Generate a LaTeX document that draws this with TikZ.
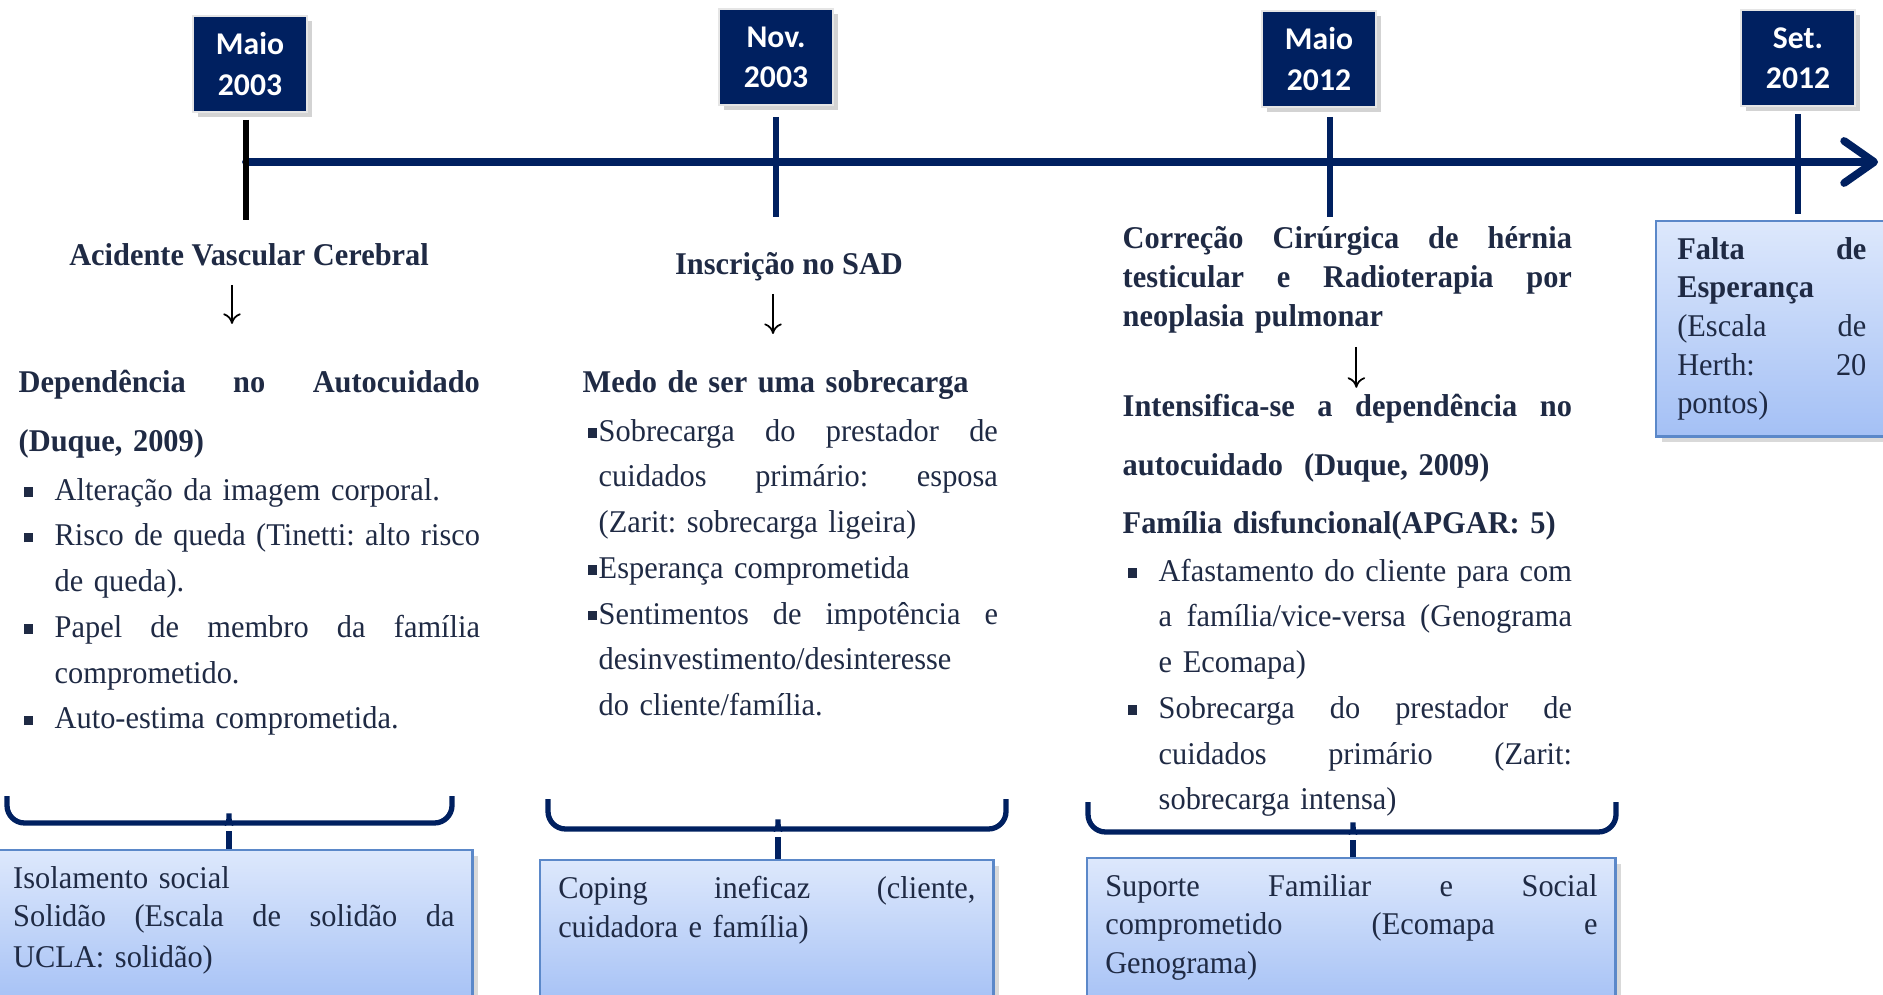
\documentclass[tikz,border=0pt]{standalone}
\usepackage{fontspec}
\setmainfont{Liberation Serif}[FakeStretch=0.96]
\newfontfamily\datefont{Carlito}
\usetikzlibrary{arrows.meta,shadows,calc}
\frenchspacing

\definecolor{tlnavy}{HTML}{002060}
\definecolor{inkblue}{HTML}{1F2A44}
\definecolor{boxtop}{HTML}{DDE8FC}
\definecolor{boxbot}{HTML}{A4C0F5}
\definecolor{boxline}{HTML}{5B88C9}

% justified / left lines, bullet lines and hanging lines
\newlength\bulind
\newcommand\jsp{\spaceskip=0.3em plus 1fil\relax\xspaceskip=0.35em plus 1fil\relax}
\newcommand\lnj[2][\hsize]{\makebox[#1][s]{\jsp#2}}
\newcommand\lnl[2][\hsize]{\makebox[#1][l]{#2}}
\newcommand\bulmark{\makebox[\bulind][l]{\hspace{0.05cm}\rule[0.25ex]{0.65ex}{0.65ex}}}
\newcommand\bulj[1]{\bulmark\makebox[\dimexpr\hsize-\bulind\relax][s]{\jsp#1}}
\newcommand\bull[1]{\bulmark\makebox[\dimexpr\hsize-\bulind\relax][l]{#1}}
\newcommand\hngj[1]{\hspace*{\bulind}\makebox[\dimexpr\hsize-\bulind\relax][s]{\jsp#1}}
\newcommand\hngl[1]{\hspace*{\bulind}\makebox[\dimexpr\hsize-\bulind\relax][l]{#1}}
\newcommand\boxfoot[1]{\rule[-#1]{0pt}{0pt}}

\begin{document}
\begin{tikzpicture}[x=0.01cm, y=-0.01cm,
    datebox/.style={draw=white!80!gray, line width=0.6pt, fill=tlnavy, text=white,
        font=\datefont\bfseries\fontsize{9}{11.4}\selectfont, align=center,
        minimum width=1.14cm, minimum height=0.96cm, inner sep=0pt,
        drop shadow={shadow xshift=1.5pt, shadow yshift=-1.5pt, opacity=0.35}},
    timeline/.style={draw=tlnavy, line width=2.2pt, line cap=round,
        -{Straight Barb[length=0.3cm, width=0.42cm, round]}},
    tickline/.style={draw=tlnavy, line width=1.8pt},
    heading/.style={font=\bfseries\fontsize{9}{11}\selectfont, text=inkblue, inner sep=0pt},
    textblock/.style={text=inkblue, inner sep=0pt, align=left, anchor=base west,
        font=\fontsize{9}{13}\selectfont},
    downarrow/.style={draw=black, line width=0.5pt, -{To[length=3pt, width=5pt]}},
    bracket/.style={draw=tlnavy, line width=1.5pt, rounded corners=5pt},
    resbox/.style={draw=boxline, line width=0.7pt, top color=boxtop, bottom color=boxbot,
        text=inkblue, align=left, anchor=north west, inner xsep=0.18cm, inner ysep=0.16cm,
        font=\fontsize{9}{11}\selectfont,
        drop shadow={shadow xshift=1.5pt, shadow yshift=-1.5pt, opacity=0.3}}]

    \useasboundingbox (0,0) rectangle (1883,995);

    % Dates
    \node[datebox] (may03) at (250,64) {Maio\\2003};
    \node[datebox] (nov03) at (776,57) {Nov.\\2003};
    \node[datebox] (may12) at (1319,59) {Maio\\2012};
    \node[datebox] (set12) at (1798,58) {Set.\\2012};

    % Time line and ticks
    \coordinate (tstart) at (246,162);
    \coordinate (tend) at (1878,162);
    \draw[timeline] (tstart) -- (tend);

    \coordinate (tk1) at (246,120);
    \coordinate (tk2) at (776,117);
    \coordinate (tk3) at (1330,117);
    \coordinate (tk4) at (1798,114);
    \draw[tickline, draw=black] (tk1) -- ++(0,100);
    \draw[tickline] (tk2) -- ++(0,100);
    \draw[tickline] (tk3) -- ++(0,100);
    \draw[tickline] (tk4) -- ++(0,100);

    % Maio 2003
    \node[heading] (acv) at (249,255) {Acidente Vascular Cerebral};
    \node[textblock, text width=4.61cm] (dep) at (18,393) {\setlength{\bulind}{0.36cm}%
        \lnj{\bfseries Dependência no Autocuidado}\\[3.5pt]
        \lnl{\bfseries (Duque, 2009)}\\[1pt]
        \bull{Alteração da imagem corporal.}\\
        \bulj{Risco de queda (Tinetti: alto risco}\\
        \hngl{de queda).}\\
        \bulj{Papel de membro da família}\\
        \hngl{comprometido.}\\
        \bull{Auto-estima comprometida.}};
    \draw[downarrow] ($(acv.south)+(-17,18)$) -- ++(0,39);

    % Nov. 2003
    \node[heading] (ins) at (789,267) {Inscrição no SAD};
    \node[textblock, text width=4.15cm] (medo) at (582,393) {\setlength{\bulind}{0.16cm}%
        \lnl{\bfseries Medo de ser uma sobrecarga}\\[0.7pt]
        \bulj{Sobrecarga do prestador de}\\
        \hngj{cuidados primário: esposa}\\
        \hngl{(Zarit: sobrecarga ligeira)}\\
        \bull{Esperança comprometida}\\
        \bulj{Sentimentos de impotência e}\\
        \hngl{desinvestimento/desinteresse}\\
        \hngl{do cliente/família.}};
    \draw[downarrow] ($(ins.south)+(-16,12)$) -- ++(0,40);

    % Maio 2012
    \node[textblock, text width=4.49cm, font=\bfseries\fontsize{9}{11}\selectfont] (cir) at (1122,249) {%
        \lnj{Correção Cirúrgica de hérnia}\\
        \lnj{testicular e Radioterapia por}\\
        \lnl{neoplasia pulmonar}};
    \node[textblock, text width=4.49cm] (int) at (1122,417) {\setlength{\bulind}{0.36cm}%
        \lnj{\bfseries Intensifica-se a dependência no}\\[3.5pt]
        \lnl{\bfseries autocuidado~ (Duque, 2009)}\\[3.5pt]
        \lnl{\bfseries Família disfuncional(APGAR: 5)}\\[0.7pt]
        \bulj{Afastamento do cliente para com}\\
        \hngj{a família/vice-versa (Genograma}\\
        \hngl{e Ecomapa)}\\
        \bulj{Sobrecarga do prestador de}\\
        \hngj{cuidados primário (Zarit:}\\
        \hngl{sobrecarga intensa)}};
    \draw[downarrow] ($(cir.south)+(9,13)$) -- ++(0,41);

    % Set. 2012
    \node[resbox, text width=2.2cm, inner xsep=0.21cm, minimum height=2.12cm] (falta) at (1655,220) {%
        \lnj[1.89cm]{\bfseries Falta de}\\
        \lnl[1.89cm]{\bfseries Esperança}\\
        \lnj[1.89cm]{(Escala de}\\
        \lnj[1.89cm]{Herth: 20}\\
        \lnl[1.89cm]{pontos)}};

    % Results
    \node[resbox, text width=4.41cm] (iso) at (-6,849) {%
        \lnl{Isolamento social}\\
        \lnj{Solidão (Escala de solidão da}\\[0.5pt]
        \lnl{UCLA: solidão)\boxfoot{0.25cm}}};
    \node[resbox, text width=4.17cm] (cop) at (539,859) {%
        \lnj{Coping ineficaz (cliente,}\\
        \lnl{cuidadora e família)\boxfoot{0.55cm}}};
    \node[resbox, text width=4.92cm] (sup) at (1086,857) {%
        \lnj{Suporte Familiar e Social}\\
        \lnj{comprometido (Ecomapa e}\\
        \lnl{Genograma)\boxfoot{0.2cm}}};

    % Brackets
    \coordinate (c1) at (229,831);
    \coordinate (c2) at (778,837);
    \coordinate (c3) at (1353,840);
    \draw[bracket] (7,796) |- (221,823) .. controls (227,823) and (229,825) .. (c1)
        .. controls (229,825) and (231,823) .. (237,823) -| (452,796);
    \draw[bracket] (c1) -- (c1 |- iso.north);
    \draw[bracket] (548,799) |- (770,829) .. controls (776,829) and (778,831) .. (c2)
        .. controls (778,831) and (780,829) .. (786,829) -| (1006,799);
    \draw[bracket] (c2) -- (c2 |- cop.north);
    \draw[bracket] (1088,802) |- (1345,832) .. controls (1351,832) and (1353,834) .. (c3)
        .. controls (1353,834) and (1355,832) .. (1361,832) -| (1616,802);
    \draw[bracket] (c3) -- (c3 |- sup.north);

\end{tikzpicture}
\end{document}
